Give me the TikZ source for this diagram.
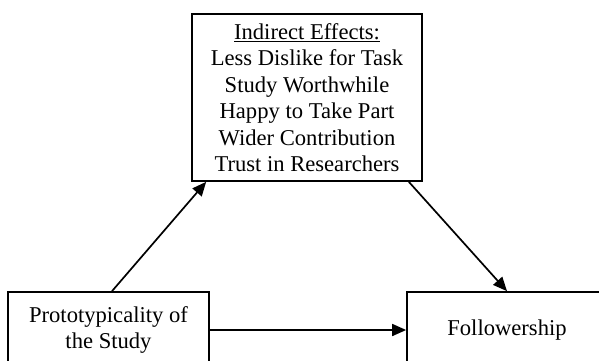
\documentclass[tikz,border=0pt]{standalone}
\usepackage{fontspec}
\setmainfont{Liberation Serif}
\usetikzlibrary{arrows.meta}
\begin{document}
\begin{tikzpicture}[x=1pt,y=-1pt,
  box/.style={draw,line width=1.7pt,align=center,inner sep=0pt,font=\fontsize{22.6}{26.5}\selectfont},
  arr/.style={line width=1.7pt,-{Triangle[length=14pt,width=12pt]}}]
\useasboundingbox (0,0) rectangle (599,360);
\clip (0,0) rectangle (599,360);
\node[box,minimum width=230pt,minimum height=167pt] (ie) at (307,97.5)
  {\underline{Indirect Effects:}\\Less Dislike for Task\\Study Worthwhile\\Happy to Take Part\\Wider Contribution\\Trust in Researchers};
\node[box,minimum width=201pt,minimum height=76pt] (pt) at (108.5,330)
  {Prototypicality of\\the Study};
\node[box,minimum width=200pt,minimum height=76pt] (fl) at (507,330)
  {Followership};
\draw[arr] ([xshift=3.5pt]pt.north) -- ([xshift=15pt]ie.south west);
\draw[arr] ([xshift=-14pt]ie.south east) -- (fl.north);
\draw[arr] (pt.east) -- (fl.west);
\end{tikzpicture}
\end{document}
